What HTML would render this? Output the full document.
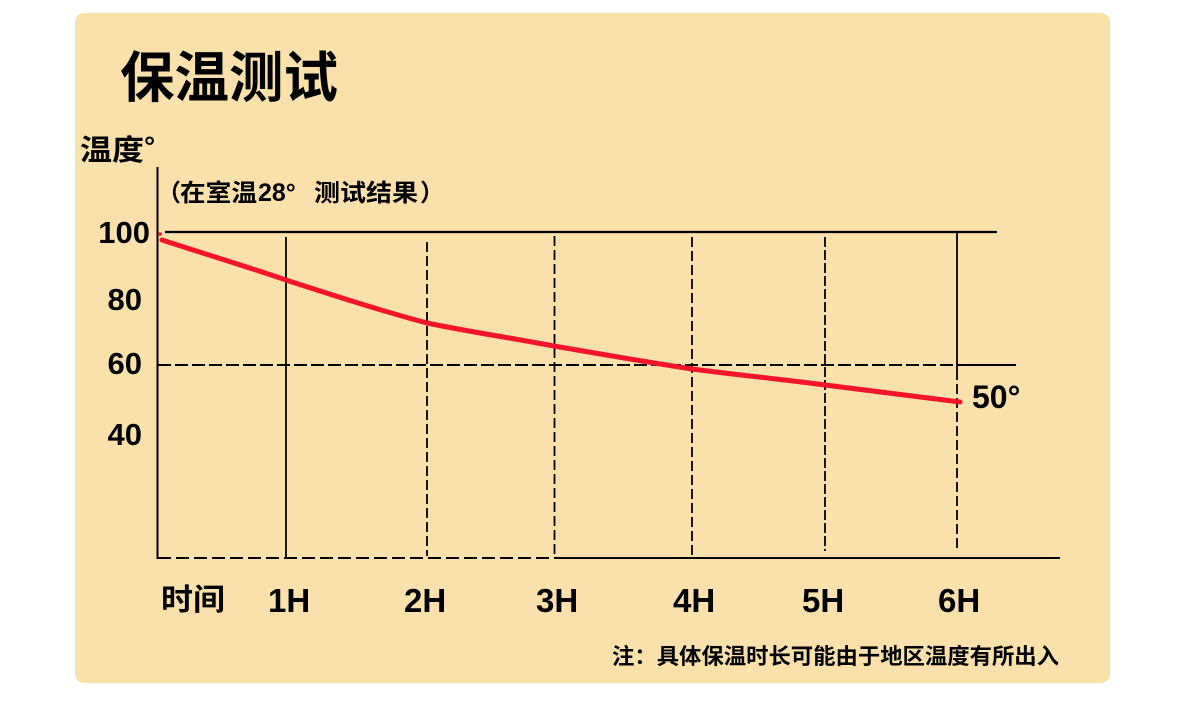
<!DOCTYPE html>
<html>
<head>
<meta charset="utf-8">
<style>
  html, body { margin:0; padding:0; background:#ffffff; }
  body { width:1200px; height:710px; overflow:hidden; }
  svg { display:block; }
  .cjk { font-family: "Liberation Sans", "Noto Sans CJK SC", "WenQuanYi Zen Hei", sans-serif; font-weight:700; fill:#000; }
  .num { font-family: "Liberation Sans", Arial, sans-serif; font-weight:700; fill:#000; }
</style>
</head>
<body>
<svg width="1200" height="710" viewBox="0 0 1200 710" xmlns="http://www.w3.org/2000/svg">
  <!-- panel -->
  <rect x="75" y="13" width="1035" height="670" rx="9" ry="9" fill="#FAE0AB"/>

  <!-- title -->
  <text class="cjk" x="120" y="97" font-size="55" textLength="218" lengthAdjust="spacingAndGlyphs">保温测试</text>

  <!-- y axis title -->
  <text class="cjk" x="80" y="160" font-size="29" textLength="64" lengthAdjust="spacingAndGlyphs">温度</text>
  <text class="num" x="144" y="156" font-size="28">°</text>

  <!-- subtitle -->
  <text class="cjk" x="157" y="201" font-size="24">（</text>
  <text class="cjk" x="180" y="201" font-size="24" textLength="77" lengthAdjust="spacingAndGlyphs">在室温</text>
  <text class="num" x="258" y="201" font-size="25">28°</text>
  <text class="cjk" x="314" y="201" font-size="24" textLength="104" lengthAdjust="spacingAndGlyphs">测试结果</text>
  <text class="cjk" x="420" y="201" font-size="24">）</text>

  <!-- y labels -->
  <text class="num" x="150" y="243" font-size="31" text-anchor="end">100</text>
  <text class="num" x="142" y="310" font-size="31" text-anchor="end">80</text>
  <text class="num" x="142" y="374" font-size="31" text-anchor="end">60</text>
  <text class="num" x="142" y="445" font-size="31" text-anchor="end">40</text>

  <!-- axes & grid -->
  <g stroke="#000" fill="none">
    <!-- y axis -->
    <line x1="157.5" y1="167" x2="157.5" y2="559" stroke-width="2"/>
    <!-- 100 line -->
    <line x1="165" y1="232" x2="997" y2="232" stroke-width="2.3"/>
    <!-- 60 line dashed + solid end -->
    <line x1="158" y1="365" x2="957" y2="365" stroke-width="2" stroke-dasharray="13 4"/>
    <line x1="957" y1="365" x2="1016" y2="365" stroke-width="2"/>
    <!-- bottom axis -->
    <line x1="158" y1="558" x2="554" y2="558" stroke-width="2" stroke-dasharray="13 5"/>
    <line x1="554" y1="558" x2="1060" y2="558" stroke-width="2"/>

    <!-- verticals -->
    <line x1="286" y1="237" x2="286" y2="558" stroke-width="1.8"/>
    <line x1="427" y1="242" x2="427" y2="556" stroke-width="1.8" stroke-dasharray="10 4"/>
    <line x1="554.5" y1="236" x2="554.5" y2="556" stroke-width="1.8" stroke-dasharray="10 4"/>
    <line x1="692" y1="237" x2="692" y2="556" stroke-width="1.8" stroke-dasharray="10 4"/>
    <line x1="825" y1="237" x2="825" y2="551" stroke-width="1.8" stroke-dasharray="10 3"/>
    <line x1="957" y1="232" x2="957" y2="370" stroke-width="1.8"/>
    <line x1="957" y1="370" x2="957" y2="550" stroke-width="1.8" stroke-dasharray="10 4"/>
  </g>

  <!-- red curve -->
  <circle cx="160" cy="234" r="1.8" fill="#f5142a"/>
  <path d="M162,240 C205,254 245,266 286,280 C335,296 385,312 427,323 C470,332 512,338 554,346 C600,354 646,362 692,369 C737,375 780,379 825,385 C870,391 915,396 960,402"
        fill="none" stroke="#f5142a" stroke-width="5" stroke-linecap="round" stroke-linejoin="round"/>

  <!-- end label -->
  <text class="num" x="972" y="408" font-size="32">50°</text>

  <!-- x labels -->
  <text class="cjk" x="161" y="610" font-size="30" textLength="64" lengthAdjust="spacingAndGlyphs">时间</text>
  <text class="num" x="268" y="612" font-size="33">1H</text>
  <text class="num" x="404" y="612" font-size="33">2H</text>
  <text class="num" x="536" y="612" font-size="33">3H</text>
  <text class="num" x="673" y="612" font-size="33">4H</text>
  <text class="num" x="802" y="612" font-size="33">5H</text>
  <text class="num" x="938" y="612" font-size="33">6H</text>

  <!-- note -->
  <text class="cjk" x="612" y="664" font-size="22" textLength="447" lengthAdjust="spacingAndGlyphs">注：具体保温时长可能由于地区温度有所出入</text>
</svg>
</body>
</html>
